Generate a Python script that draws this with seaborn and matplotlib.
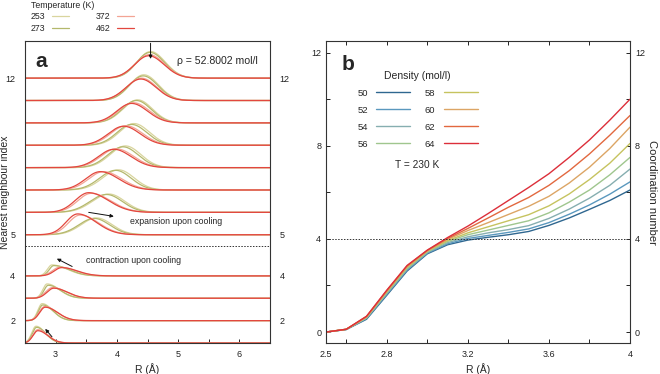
import numpy as np
import pandas as pd
import matplotlib.pyplot as plt
import seaborn as sns
from matplotlib.lines import Line2D

sns.set_theme(style='white')
plt.rcParams['font.family'] = ['Liberation Sans', 'DejaVu Sans']
plt.rcParams['axes.edgecolor'] = '#333333'
plt.rcParams['axes.linewidth'] = 0.8

# ---- panel a: peaks of the neighbour distance distributions ----
temps = [253, 273, 372, 462]
temp_colors = ['#d9d59e', '#b4b86c', '#f3a494', '#e2473e']
nn_index = [1, 2, 3, 4, 5, 6, 7, 8, 9, 10, 11, 12]
baseline = [0, 1, 2, 3, 4.84, 5.84, 6.84, 7.84, 8.84, 9.84, 10.84, 11.84]

centre_253 = [2.68, 2.78, 2.86, 2.94, 3.67, 3.87, 4.03, 4.14, 4.28, 4.34, 4.44, 4.55]
centre_273 = [2.69, 2.79, 2.88, 2.97, 3.63, 3.83, 3.98, 4.10, 4.24, 4.32, 4.43, 4.54]
centre_372 = [2.71, 2.82, 2.95, 3.07, 3.40, 3.58, 3.78, 3.99, 4.15, 4.27, 4.40, 4.53]
centre_462 = [2.71, 2.83, 2.97, 3.10, 3.36, 3.54, 3.73, 3.95, 4.11, 4.24, 4.39, 4.52]

height_253 = [0.75, 0.76, 0.64, 0.49, 0.75, 0.82, 0.90, 0.97, 0.97, 1.03, 1.15, 1.19]
height_273 = [0.70, 0.70, 0.58, 0.46, 0.73, 0.80, 0.88, 0.93, 0.93, 1.00, 1.10, 1.15]
height_372 = [0.60, 0.63, 0.48, 0.39, 0.88, 0.85, 0.82, 0.84, 0.87, 0.90, 1.00, 1.05]
height_462 = [0.55, 0.60, 0.45, 0.37, 0.93, 0.88, 0.82, 0.82, 0.85, 0.87, 0.96, 1.00]

# widths left / right of the peak, cold (253, 273) and hot (372, 462)
width_l_cold = [0.07, 0.07, 0.07, 0.075, 0.25, 0.27, 0.26, 0.25, 0.24, 0.24, 0.23, 0.22]
width_r_cold = [0.15, 0.17, 0.20, 0.25, 0.25, 0.26, 0.25, 0.25, 0.25, 0.24, 0.24, 0.24]
width_l_hot = [0.08, 0.09, 0.11, 0.12, 0.19, 0.22, 0.24, 0.25, 0.25, 0.24, 0.24, 0.23]
width_r_hot = [0.16, 0.20, 0.22, 0.25, 0.30, 0.32, 0.30, 0.28, 0.27, 0.26, 0.25, 0.25]

# ---- panel b: coordination number vs R at T = 230 K ----
r_b = [2.5, 2.6, 2.7, 2.8, 2.9, 3.0, 3.1, 3.2, 3.3, 3.4, 3.5, 3.6, 3.7, 3.8, 3.9, 4.0]
densities = [50, 52, 54, 56, 58, 60, 62, 64]
dens_colors = ['#2f6790', '#5a98be', '#86aeb0', '#9fc68e', '#c6c35f', '#dca565', '#e2683f', '#dc2f3a']
cn_50 = [0, 0.11, 0.55, 1.58, 2.62, 3.36, 3.75, 3.95, 4.07, 4.18, 4.32, 4.58, 4.90, 5.27, 5.65, 6.10]
cn_52 = [0, 0.11, 0.58, 1.62, 2.66, 3.39, 3.79, 4.02, 4.15, 4.28, 4.43, 4.70, 5.06, 5.46, 5.92, 6.45]
cn_54 = [0, 0.11, 0.60, 1.66, 2.70, 3.42, 3.84, 4.09, 4.26, 4.40, 4.57, 4.88, 5.28, 5.75, 6.30, 7.00]
cn_56 = [0, 0.12, 0.62, 1.70, 2.74, 3.45, 3.89, 4.18, 4.38, 4.58, 4.78, 5.12, 5.58, 6.10, 6.75, 7.50]
cn_58 = [0, 0.12, 0.64, 1.73, 2.78, 3.47, 3.93, 4.26, 4.52, 4.78, 5.04, 5.42, 5.93, 6.55, 7.25, 8.10]
cn_60 = [0, 0.12, 0.65, 1.76, 2.81, 3.49, 3.98, 4.36, 4.70, 5.05, 5.40, 5.83, 6.40, 7.08, 7.88, 8.80]
cn_62 = [0, 0.12, 0.67, 1.78, 2.84, 3.51, 4.02, 4.45, 4.90, 5.36, 5.78, 6.30, 6.93, 7.65, 8.45, 9.30]
cn_64 = [0, 0.12, 0.68, 1.80, 2.86, 3.52, 4.06, 4.55, 5.09, 5.65, 6.21, 6.80, 7.50, 8.25, 9.10, 10.00]

# ---------------- build panel a table ----------------
r_a = np.linspace(2.5, 6.5, 801)
centres = {253: centre_253, 273: centre_273, 372: centre_372, 462: centre_462}
heights = {253: height_253, 273: height_273, 372: height_372, 462: height_462}
rows = []
for t in temps:
    wl = width_l_cold if t < 300 else width_l_hot
    wr = width_r_cold if t < 300 else width_r_hot
    for i, k in enumerate(nn_index):
        c = centres[t][i]
        s = np.where(r_a < c, wl[i], wr[i])
        y = baseline[i] + heights[t][i] * np.exp(-0.5 * ((r_a - c) / s) ** 2)
        rows.append(pd.DataFrame({'R': r_a, 'y': y, 'T': t, 'k': k}))
df_a = pd.concat(rows, ignore_index=True)

cn = [cn_50, cn_52, cn_54, cn_56, cn_58, cn_60, cn_62, cn_64]
df_b = pd.concat([pd.DataFrame({'R': r_b, 'CN': v, 'rho': d}) for d, v in zip(densities, cn)],
                 ignore_index=True)

fig = plt.figure(figsize=(6.6, 3.74), dpi=100)
ax_a = fig.add_axes([25 / 660, 31 / 374, 245 / 660, 302 / 374])
ax_b = fig.add_axes([326 / 660, 31 / 374, 304 / 660, 302 / 374])

# ---------------- panel a ----------------
sns.lineplot(data=df_a, x='R', y='y', hue='T', units='k', estimator=None,
             palette=temp_colors, hue_order=temps, lw=0.9, legend=False, ax=ax_a)
ax_a.set_xlim(2.5, 6.5)
ax_a.set_ylim(0, 13.5)
ax_a.axhline(4.35, color='#333333', ls=(0, (1.5, 1.5)), lw=0.7)
tick_pos = [baseline[1], baseline[3], baseline[4], baseline[11]]
ax_a.set_yticks(tick_pos)
ax_a.set_yticklabels(['2', '4', '5', '12'])
ax_a.tick_params(axis='y', length=0, labelsize=6.5, pad=7, labelright=True, colors='#222222')
ax_a.set_xticks([3, 4, 5, 6])
ax_a.set_xticks([3.5, 4.5, 5.5], minor=True)
ax_a.tick_params(axis='x', which='both', direction='in', length=3, width=0.7,
                 labelsize=6.5, pad=5, bottom=True, colors='#222222')
ax_a.set_xlabel('R (Å)', fontsize=7.5, labelpad=3)
ax_a.set_ylabel('Nearest neighbour index', fontsize=7.5)
ax_a.yaxis.set_label_coords(-0.062, 0.5)

ax_a.text(2.77, 12.6, 'a', fontsize=15, fontweight='bold', ha='center', va='center')
ax_a.text(4.98, 12.6, 'ρ = 52.8002 mol/l', fontsize=7.6, ha='left', va='center')
ax_a.text(4.22, 5.44, 'expansion upon cooling', fontsize=6.3, ha='left', va='center')
ax_a.text(3.49, 3.68, 'contraction upon cooling', fontsize=6.3, ha='left', va='center')
arrow = dict(arrowstyle='-|>', color='#111111', lw=0.7, mutation_scale=5, shrinkA=0, shrinkB=0)
ax_a.annotate('', xy=(4.55, 12.7), xytext=(4.55, 13.4), arrowprops=arrow)
ax_a.annotate('', xy=(3.95, 5.66), xytext=(3.54, 5.84), arrowprops=arrow)
ax_a.annotate('', xy=(3.02, 3.77), xytext=(3.27, 3.42), arrowprops=arrow)
ax_a.annotate('', xy=(2.83, 0.63), xytext=(2.94, 0.28), arrowprops=arrow)

handles_a = [Line2D([], [], color=c, lw=0.9) for c in temp_colors]
ax_a.legend(handles_a, [str(t) for t in temps], ncol=2, markerfirst=False, frameon=False,
            title='Temperature (K)', title_fontsize=6.3, fontsize=6.3, alignment='left',
            handlelength=1.9, handletextpad=0.8, columnspacing=3.0, labelspacing=0.25,
            borderpad=0, loc='upper left', bbox_to_anchor=(0.006, 1.146))

# ---------------- panel b ----------------
sns.lineplot(data=df_b, x='R', y='CN', hue='rho', palette=dens_colors, hue_order=densities,
             lw=1.0, legend=False, ax=ax_b)
ax_b.set_xlim(2.5, 4.0)
ax_b.set_ylim(-0.47, 12.5)
ax_b.axhline(4, color='#333333', ls=(0, (1.5, 1.5)), lw=0.7)
ax_b.set_xticks([2.5, 2.6, 2.8, 3.0, 3.2, 3.4, 3.6, 3.8, 4.0])
ax_b.set_xticklabels(['2.5', '', '2.8', '', '3.2', '', '3.6', '', '4'])
ax_b.set_yticks([0, 2, 4, 6, 8, 10, 12])
ax_b.set_yticklabels(['0', '', '4', '', '8', '', '12'])
ax_b.tick_params(axis='both', direction='in', length=3, width=0.7, labelsize=6.5,
                 colors='#222222', top=True, bottom=True, left=True, right=True,
                 labelleft=True, labelright=True)
ax_b.tick_params(axis='x', pad=5)
ax_b.set_xlabel('R (Å)', fontsize=7.5, labelpad=3)
ax_b.set_ylabel('')
ax_b.yaxis.set_label_position('right')
ax_b.set_ylabel('Coordination number', fontsize=8, rotation=270, labelpad=9)

ax_b.text(2.61, 11.5, 'b', fontsize=15, fontweight='bold', ha='center', va='center')
ax_b.text(2.84, 7.17, 'T = 230 K', fontsize=7.3, ha='left', va='center')

handles_b = [Line2D([], [], color=c, lw=1.0) for c in dens_colors]
ax_b.legend(handles_b, [str(d) for d in densities], ncol=2, markerfirst=False, frameon=False,
            title='Density (mol/l)', title_fontsize=7.5, fontsize=6.8,
            handlelength=3.6, handletextpad=0.9, columnspacing=1.5, labelspacing=0.85,
            loc='upper left', bbox_to_anchor=(0.075, 0.93))

fig.savefig('out.png', dpi=100)
